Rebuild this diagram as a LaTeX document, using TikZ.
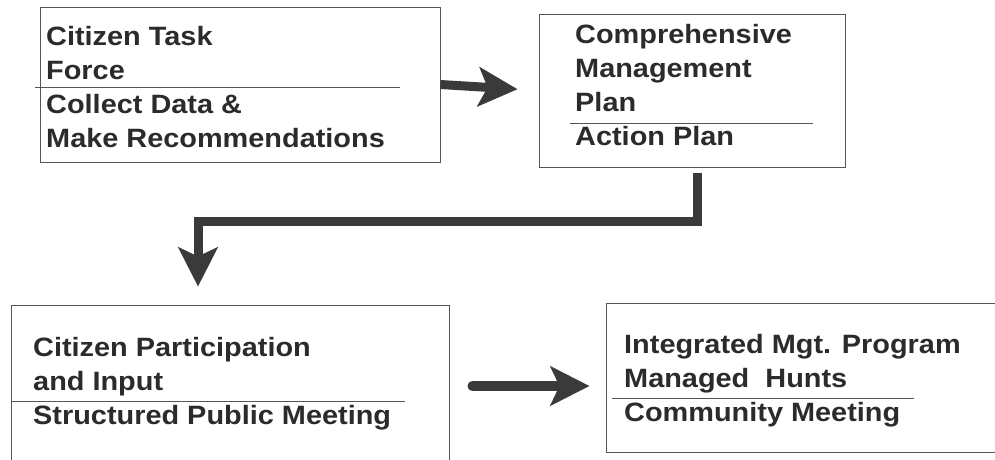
\documentclass[tikz,border=0pt]{standalone}
\usepackage{fontspec}
\newfontfamily\boxfont{Liberation Sans}[FakeStretch=1.09]
\usepackage{xcolor}
\usepackage{tikz}
\usetikzlibrary{arrows.meta}
\definecolor{boxgray}{HTML}{555555}
\definecolor{textgray}{HTML}{2B2B2B}
\definecolor{arrowgray}{HTML}{3A3A3A}

\begin{document}
\begin{tikzpicture}[x=1pt,y=-1pt,
  box/.style={draw=boxgray,line width=1pt,inner sep=0pt},
  boxtext/.style={anchor=base west,align=left,inner sep=0pt,text=textgray,
    font=\boxfont\bfseries\fontsize{26.5}{34}\selectfont},
  divider/.style={draw=boxgray,line width=1pt},
  bigarrow/.style={draw=arrowgray,line width=9pt,
    -{Stealth[length=39pt,width=39pt,inset=9pt]}}]
  \useasboundingbox (0,0) rectangle (995,459);
  \clip (0,0) rectangle (995,459);
  \node[box,minimum width=400pt,minimum height=155pt] (task) at (240,84.5) {};
  \node[box,minimum width=306pt,minimum height=153pt] (plan) at (692,90.5) {};
  \node[box,minimum width=438pt,minimum height=162pt] (input) at (230,386) {};
  \node[box,minimum width=404pt,minimum height=149pt] (hunts) at (808,377.5) {};
  \node[boxtext] (tasktext) at (46,147) {Citizen Task\\Force\\Collect Data \&\\Make Recommendations};
  \node[boxtext] (plantext) at (575,145) {Comprehensive\\Management\\Plan\\Action Plan};
  \node[boxtext] (inputtext) at (33,424) {Citizen Participation\\and Input\\Structured Public Meeting};
  \node[boxtext] (huntstext) at (624,421) {Integrated Mgt. Program\\Managed~ Hunts\\Community Meeting};
  \draw[divider] (35,87) -- (400,87);
  \draw[divider] (570,123) -- (813,123);
  \draw[divider] (12,401) -- (405,401);
  \draw[divider] (612,398) -- (914,398);
  \coordinate (bend) at (198,221);
  \draw[bigarrow,shorten >=21pt] (task.east) -- (plan.west);
  \draw[bigarrow,line join=miter,shorten <=5pt,shorten >=18pt]
    ([xshift=5pt]plan.south) |- (bend) -- (bend |- input.north);
  \draw[bigarrow,line width=10pt,line cap=round,shorten <=23pt,shorten >=16pt]
    (input.east) -- (hunts.west |- input.east);
\end{tikzpicture}
\end{document}
